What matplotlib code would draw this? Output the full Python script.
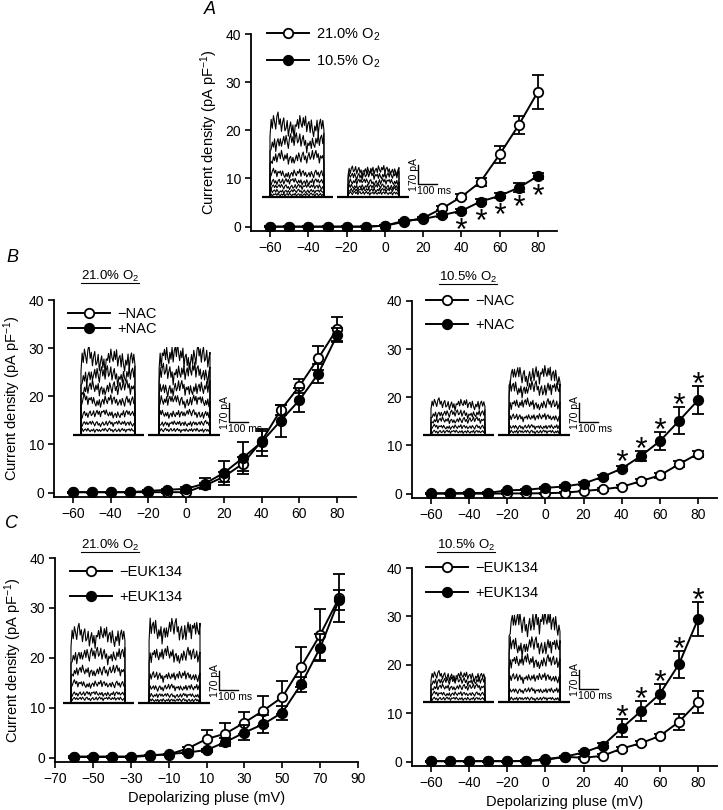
import matplotlib
matplotlib.use('Agg')
import matplotlib.pyplot as plt
from matplotlib.transforms import offset_copy
import numpy as np

plt.rcParams['font.family'] = ['Liberation Sans', 'DejaVu Sans']
plt.rcParams['mathtext.fontset'] = 'custom'
plt.rcParams['mathtext.rm'] = 'Liberation Sans'
plt.rcParams['mathtext.it'] = 'Liberation Sans:italic'
plt.rcParams['mathtext.bf'] = 'Liberation Sans:bold'

W, H = 723, 810

voltage = [-60, -50, -40, -30, -20, -10, 0, 10, 20, 30, 40, 50, 60, 70, 80]

# panel A
a_21 = [0, 0, 0, 0, 0, 0, 0.2, 1.0, 1.8, 3.8, 6.2, 9.3, 15.0, 21.1, 28.0]
a_21_err = [0.1] * 6 + [0.1, 0.2, 0.3, 0.4, 0.5, 0.8, 1.8, 1.9, 3.5]
a_105 = [0, 0, 0, 0, 0, 0, 0.2, 1.2, 1.6, 2.4, 3.3, 5.2, 6.4, 8.1, 10.5]
a_105_err = [0.1] * 6 + [0.1, 0.2, 0.2, 0.3, 0.4, 0.5, 0.5, 1.0, 0.6]

# panel B, 21.0% O2
b21_minus = [0.1, 0.1, 0.1, 0.1, 0.1, 0.1, 0.1, 1.5, 3.3, 6.0, 10.7, 17.1, 22.1, 27.9, 34.0]
b21_minus_err = [0.1] * 7 + [0.5, 1.0, 1.5, 2.0, 1.0, 1.5, 2.5, 2.5]
b21_plus = [0.1, 0.1, 0.1, 0.1, 0.35, 0.6, 0.8, 1.9, 4.1, 7.2, 10.5, 14.9, 19.2, 24.7, 32.7]
b21_plus_err = [0.1] * 6 + [0.3, 1.2, 2.5, 3.3, 2.8, 3.4, 2.5, 2.0, 1.5]

# panel B, 10.5% O2
b105_minus = [0, 0, 0, 0, 0.05, 0.05, 0.1, 0.2, 0.55, 0.9, 1.4, 2.6, 3.8, 6.1, 8.3]
b105_minus_err = [0.1] * 9 + [0.3, 0.3, 0.4, 0.5, 0.6, 0.6]
b105_plus = [0.1, 0.1, 0.15, 0.15, 0.7, 0.8, 1.2, 1.5, 2.1, 3.5, 5.2, 7.8, 10.9, 15.1, 19.4]
b105_plus_err = [0.1] * 6 + [0.2, 0.3, 0.3, 0.4, 0.5, 1.1, 1.8, 2.8, 2.9]

# panel C, 21.0% O2
c21_minus = [0.2, 0.2, 0.2, 0.2, 0.5, 0.6, 1.8, 3.7, 4.8, 7.0, 9.4, 12.1, 18.2, 24.6, 32.0]
c21_minus_err = [0.1] * 6 + [0.3, 1.9, 2.1, 2.2, 3.0, 3.3, 4.0, 5.1, 4.8]
c21_plus = [0.1, 0.1, 0.1, 0.1, 0.35, 0.7, 1.0, 1.5, 3.1, 5.0, 6.7, 9.0, 14.7, 22.0, 31.6]
c21_plus_err = [0.1] * 6 + [0.2, 0.3, 0.8, 1.5, 1.8, 1.4, 1.5, 2.7, 2.0]

# panel C, 10.5% O2
c105_minus = [0.1, 0.1, 0.1, 0.1, 0.1, 0.1, 0.35, 1.0, 0.8, 1.2, 2.7, 3.8, 5.3, 8.2, 12.3]
c105_minus_err = [0.1] * 8 + [0.2, 0.3, 0.4, 0.4, 0.5, 1.7, 2.3]
c105_plus = [0.1, 0.1, 0.1, 0.1, 0.1, 0.15, 0.5, 1.0, 1.9, 3.3, 6.9, 10.4, 14.0, 20.1, 29.4]
c105_plus_err = [0.1] * 7 + [0.2, 0.3, 0.5, 1.9, 2.1, 2.0, 2.8, 3.5]

star_voltages = [40, 50, 60, 70, 80]

# inset current traces: step amplitudes (pA) of each trace family
ins_a = ([630, 485, 345, 205, 135, 90, 50, 20], [232, 190, 133, 90, 62, 34])
ins_b21 = ([665, 525, 410, 300, 185, 100, 42], [690, 550, 410, 300, 185, 100, 42])
ins_b105 = ([270, 185, 128, 70, 28], [525, 410, 270, 155, 70, 28])
ins_c21 = ([590, 420, 278, 165, 80, 37], [645, 420, 235, 135, 65, 23])
ins_c105 = ([227, 184, 128, 70, 28], [695, 495, 355, 212, 100, 28])

# hand-drawn jitter shape for the traces
WIGGLE = [0.0, 0.7, -0.4, 0.9, 0.1, -0.8, 0.5, 1.0, -0.3, 0.4, -0.9, 0.2, 0.8, -0.5, -0.1,
          0.9, -0.7, 0.3, 1.0, -0.2, 0.6, -1.0, 0.4, 0.1, 0.7, -0.4, 0.9, -0.1, -0.6, 0.5,
          -0.3, 0.8, -0.8, 0.2, 0.6, -0.5, 1.0, 0.0, -0.7, 0.4, -0.2, 0.9, -0.9, 0.3, 0.7,
          -0.4, 0.5, -0.6]
DRIFT = [0.0, 0.3, 0.6, 0.4, 0.1, -0.3, -0.5, -0.2, 0.2, 0.5, 0.3, -0.1, -0.4, -0.2, 0.1, 0.2]

fig = plt.figure(figsize=(W / 100, H / 100), dpi=100)


def px_axes(x0, x1, ytop, ybot):
    return fig.add_axes([x0 / W, 1 - ybot / H, (x1 - x0) / W, (ybot - ytop) / H])


def style(ax, xticks):
    ax.set_xlim(-70, 90)
    ax.set_ylim(-0.9, 40)
    ax.set_xticks(xticks)
    ax.set_yticks([0, 10, 20, 30, 40])
    for s in ['top', 'right']:
        ax.spines[s].set_visible(False)
    for s in ['left', 'bottom']:
        ax.spines[s].set_linewidth(1.3)
    ax.tick_params(direction='out', length=4, width=1.2, labelsize=10, pad=3)


def curves(ax, y_open, e_open, y_fill, e_fill):
    kw = dict(fmt='-o', color='k', ms=6.8, mew=1.3, lw=1.4, capsize=4,
              elinewidth=1.3, capthick=1.3, mec='k')
    h1 = ax.errorbar(voltage, y_open, yerr=e_open, mfc='white', zorder=3, **kw)
    h2 = ax.errorbar(voltage, y_fill, yerr=e_fill, mfc='k', zorder=4, **kw)
    return h1[0], h2[0]


def stars(ax, y, e, above=True):
    # pixels per data unit on the y axis
    scale = ax.get_position().height * H / 40.9
    for v in star_voltages:
        i = voltage.index(v)
        gap = max(e[i] * scale, 4.5) + (9 if above else 8)
        sign = 1 if above else -1
        tr = offset_copy(ax.transData, fig=fig, y=sign * gap, units='dots')
        ax.plot([v], [y[i]], marker='$*$', ms=8, mew=0, color='k', transform=tr,
                clip_on=False)


def legend(ax, handles, labels, x, y, spacing):
    ax.legend(handles, labels, loc='upper left', bbox_to_anchor=(x, y), frameon=False,
              fontsize=10.5, handlelength=2.9, handletextpad=0.5, borderpad=0,
              borderaxespad=0, labelspacing=spacing)


MS = 100 / 19.0   # ms per pixel
PA = 170 / 19.0   # pA per pixel


def inset(x0, ybase, groups):
    ax = fig.add_axes([(x0 - 3) / W, 1 - (ybase + 4) / H, 186 / W, 92 / H])
    ax.set_xlim(-3 * MS, 183 * MS)
    ax.set_ylim(-4 * PA, 88 * PA)
    ax.axis('off')
    spans = [(0, 374, 42, 326), (395, 774, 453, 721)]
    k = 0
    for (b0, b1, p0, p1), levels in zip(spans, groups):
        ax.plot([b0, b1], [0, 0], color='k', lw=1.6, solid_capstyle='butt')
        for L in levels:
            w = np.roll(WIGGLE, 11 * k)
            d = np.interp(np.linspace(0, len(DRIFT) - 1, len(w)), np.arange(len(DRIFT)),
                          np.roll(DRIFT, 5 * k))
            t = np.linspace(p0, p1, len(w))
            y = L * (1 + 0.14 * d) + (0.11 * L + 12) * np.array(w)
            y[0] = L * 0.85
            xs = np.concatenate([[p0], t, [p1]])
            ys = np.concatenate([[0], y, [0]])
            ax.plot(xs, ys, color='k', lw=0.8)
            k += 1
    ax.plot([821, 821, 921], [290, 120, 120], color='k', lw=1.0)
    ax.text(800, 205, '170 pA', rotation=90, ha='center', va='center', fontsize=7.5)
    ax.text(818, 100, '100 ms', ha='left', va='top', fontsize=7.5)


def underlined(xc, yc, s):
    t = fig.text(xc / W, 1 - yc / H, s, ha='center', va='center', fontsize=9.5)
    return t


ylab = 'Current density (pA pF$^{-1}$)'
xlab = 'Depolarizing pluse (mV)'
xt = [-60, -40, -20, 0, 20, 40, 60, 80]

# A
axA = px_axes(251, 557, 34, 231)
style(axA, xt)
hA = curves(axA, a_21, a_21_err, a_105, a_105_err)
stars(axA, a_105, a_105_err, above=False)
legend(axA, hA, ['21.0% O$_2$', '10.5% O$_2$'], 0.052, 1.04, 0.75)
axA.set_ylabel(ylab, fontsize=10.5)
inset(262, 197, ins_a)

# B left
axB1 = px_axes(54, 356, 300, 497)
style(axB1, xt)
hB1 = curves(axB1, b21_minus, b21_minus_err, b21_plus, b21_plus_err)
legend(axB1, hB1, ['\u2212NAC', '+NAC'], 0.046, 0.965, 0.1)
axB1.set_ylabel(ylab, fontsize=10.5)
inset(73, 435, ins_b21)

# B right
axB2 = px_axes(412, 717, 301, 498)
style(axB2, xt)
hB2 = curves(axB2, b105_minus, b105_minus_err, b105_plus, b105_plus_err)
stars(axB2, b105_plus, b105_plus_err)
legend(axB2, hB2, ['\u2212NAC', '+NAC'], 0.046, 1.035, 0.7)
inset(423, 435, ins_b105)

# C left
axC1 = px_axes(55, 358, 558, 762)
style(axC1, [-70, -50, -30, -10, 10, 30, 50, 70, 90])
hC1 = curves(axC1, c21_minus, c21_minus_err, c21_plus, c21_plus_err)
legend(axC1, hC1, ['\u2212EUK134', '+EUK134'], 0.05, 0.965, 0.75)
axC1.set_ylabel(ylab, fontsize=10.5)
axC1.set_xlabel(xlab, fontsize=10.5)
inset(63, 703, ins_c21)

# C right
axC2 = px_axes(412, 717, 568, 766)
style(axC2, xt)
hC2 = curves(axC2, c105_minus, c105_minus_err, c105_plus, c105_plus_err)
stars(axC2, c105_plus, c105_plus_err)
legend(axC2, hC2, ['\u2212EUK134', '+EUK134'], 0.046, 1.035, 0.75)
axC2.set_xlabel(xlab, fontsize=10.5)
inset(423, 702, ins_c105)

# condition titles (underlined)
titles = [underlined(110, 276, '21.0% O$_2$'), underlined(468, 277, '10.5% O$_2$'),
          underlined(110, 545, '21.0% O$_2$'), underlined(466, 545, '10.5% O$_2$')]

# panel letters
fig.text(210 / W, 1 - 9 / H, 'A', style='italic', fontsize=13, ha='center', va='center')
fig.text(12 / W, 1 - 257 / H, 'B', style='italic', fontsize=13, ha='center', va='center')
fig.text(12 / W, 1 - 523 / H, 'C', style='italic', fontsize=13, ha='center', va='center')

fig.canvas.draw()
r = fig.canvas.get_renderer()
for t in titles:
    bb = t.get_window_extent(r)
    y = bb.y0 + 1
    fig.add_artist(plt.Line2D([bb.x0 / W, bb.x1 / W], [y / H, y / H], color='k', lw=0.8,
                              transform=fig.transFigure))

fig.savefig('out.png', dpi=100)
